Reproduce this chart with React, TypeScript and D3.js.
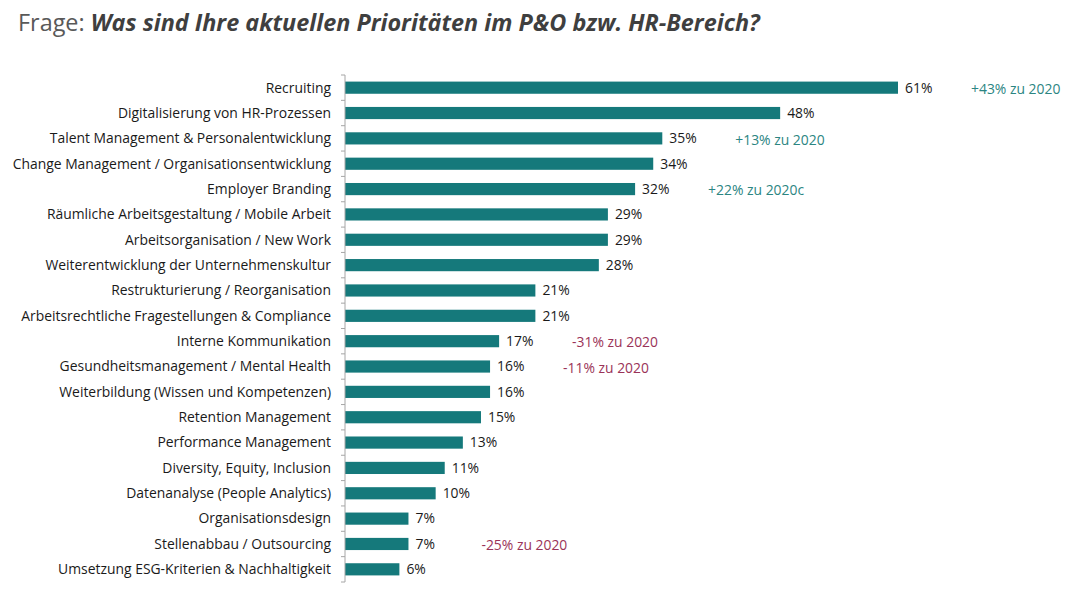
import React from "react";
import * as d3 from "d3";

const categories = [
  "Recruiting",
  "Digitalisierung von HR-Prozessen",
  "Talent Management & Personalentwicklung",
  "Change Management / Organisationsentwicklung",
  "Employer Branding",
  "Räumliche Arbeitsgestaltung / Mobile Arbeit",
  "Arbeitsorganisation / New Work",
  "Weiterentwicklung der Unternehmenskultur",
  "Restrukturierung / Reorganisation",
  "Arbeitsrechtliche Fragestellungen & Compliance",
  "Interne Kommunikation",
  "Gesundheitsmanagement / Mental Health",
  "Weiterbildung (Wissen und Kompetenzen)",
  "Retention Management",
  "Performance Management",
  "Diversity, Equity, Inclusion",
  "Datenanalyse (People Analytics)",
  "Organisationsdesign",
  "Stellenabbau / Outsourcing",
  "Umsetzung ESG-Kriterien & Nachhaltigkeit",
];
const values = [61, 48, 35, 34, 32, 29, 29, 28, 21, 21, 17, 16, 16, 15, 13, 11, 10, 7, 7, 6];
const annotations: { category: string; text: string; positive: boolean }[] = [
  { category: "Recruiting", text: "+43% zu 2020", positive: true },
  { category: "Talent Management & Personalentwicklung", text: "+13% zu 2020", positive: true },
  { category: "Employer Branding", text: "+22% zu 2020c", positive: true },
  { category: "Interne Kommunikation", text: "-31% zu 2020", positive: false },
  { category: "Gesundheitsmanagement / Mental Health", text: "-11% zu 2020", positive: false },
  { category: "Stellenabbau / Outsourcing", text: "-25% zu 2020", positive: false },
];

export default function App() {
  const W = 1080, H = 610;
  const axisX = 345;
  const x = d3.scaleLinear().domain([0, 61]).range([axisX, 898]);
  const y = d3.scaleBand().domain(categories).range([75, 582]).paddingInner(0.52).paddingOuter(0.26);
  const step = y.step();
  const font = "'Open Sans', sans-serif";
  const fs = 13.9;
  const bounds = [75, ...categories.map((c) => (y(c) as number) + y.bandwidth() + (step - y.bandwidth()) / 2)];
  return (
    <svg width={W} height={H} style={{ position: "absolute", left: 0, top: 0, background: "#fff" }}>
      <text x={18} y={31} fontFamily={font} fontSize={23.4} fill="#595959">
        Frage: <tspan fontWeight="bold" fontStyle="italic" fill="#3f3f3f">Was sind Ihre aktuellen Prioritäten im P&amp;O bzw. HR-Bereich?</tspan>
      </text>
      {categories.map((c, i) => {
        const yy = y(c) as number;
        const cy = yy + y.bandwidth() / 2;
        return (
          <g key={c}>
            <rect x={axisX} y={yy} width={x(values[i]) - axisX} height={y.bandwidth()} fill="#15797b" />
            <text x={331} y={cy} dy="0.35em" textAnchor="end" fontFamily={font} fontSize={fs} fill="#1a1a1a">{c}</text>
            <text x={x(values[i]) + 7} y={cy} dy="0.35em" fontFamily={font} fontSize={fs} fill="#1a1a1a">{values[i]}%</text>
          </g>
        );
      })}
      {annotations.map((a) => {
        const i = categories.indexOf(a.category);
        const cy = (y(a.category) as number) + y.bandwidth() / 2;
        return (
          <text key={a.text} x={x(values[i]) + 73} y={cy} dy="0.45em" fontFamily={font} fontSize={fs} fill={a.positive ? "#2b8582" : "#9a3358"}>{a.text}</text>
        );
      })}
      <line x1={axisX} x2={axisX} y1={75} y2={582} stroke="#a6a6a6" />
      {bounds.map((b, k) => (
        <line key={k} x1={axisX - 4} x2={axisX} y1={b} y2={b} stroke="#a6a6a6" />
      ))}
    </svg>
  );
}
